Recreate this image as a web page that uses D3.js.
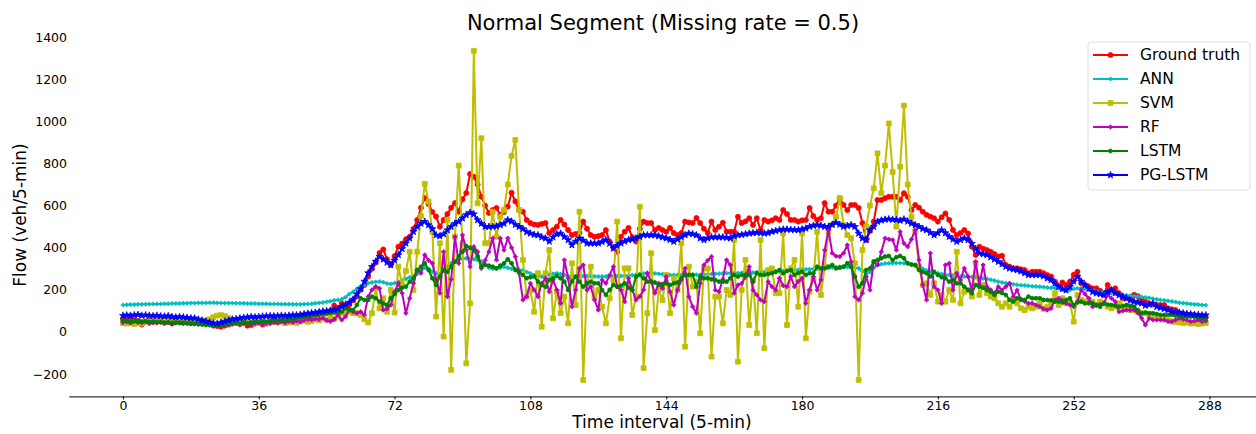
<!DOCTYPE html>
<html>
<head>
<meta charset="utf-8">
<script src="https://cdn.jsdelivr.net/npm/d3@7"></script>
<style>
  body { margin: 0; background: #fff; }
  svg { font-family: "DejaVu Sans", sans-serif; }
</style>
</head>
<body>
<svg width="1256" height="434"></svg>
<script>
// tick labels
const xTicks = [0, 36, 72, 108, 144, 180, 216, 252, 288];
const yTicks = [-200, 0, 200, 400, 600, 800, 1000, 1200, 1400];

const seriesNames = ["Ground truth", "ANN", "SVM", "RF", "LSTM", "PG-LSTM"];

// flow values, one per 5-min interval (0..287)
const groundTruth = [
  62, 58, 60, 55, 52, 35, 50, 55, 48, 52,
  50, 45, 55, 40, 48, 52, 45, 50, 42, 48,
  45, 40, 42, 38, 30, 28, 25, 30, 35, 40,
  45, 38, 42, 30, 33, 40, 45, 35, 40, 50,
  55, 48, 52, 45, 55, 50, 58, 52, 60, 65,
  65, 72, 70, 85, 90, 100, 125, 110, 135, 120,
  130, 150, 168, 200, 223, 263, 300, 330, 375, 392,
  345, 318, 360, 405, 420, 440, 452, 490, 532, 590,
  636, 608, 570, 548, 500, 532, 560, 590, 612, 571,
  630, 660, 750, 737, 700, 642, 600, 565, 579, 589,
  556, 570, 595, 661, 620, 579, 571, 532, 517, 510,
  508, 513, 517, 470, 484, 500, 532, 510, 484, 460,
  465, 470, 524, 490, 460, 452, 455, 460, 484, 429,
  400, 381, 452, 476, 494, 450, 429, 490, 524, 517,
  517, 484, 494, 484, 476, 494, 470, 460, 470, 524,
  520, 517, 541, 517, 490, 470, 524, 484, 500, 519,
  476, 476, 476, 547, 517, 525, 540, 508, 540, 484,
  532, 524, 530, 540, 532, 579, 560, 532, 532, 524,
  530, 532, 589, 550, 532, 540, 612, 571, 571, 600,
  635, 603, 579, 603, 603, 589, 517, 437, 480, 524,
  627, 627, 635, 642, 642, 642, 627, 659, 642, 579,
  603, 590, 571, 556, 548, 540, 524, 545, 563, 532,
  484, 460, 470, 484, 468, 405, 366, 405, 395, 389,
  381, 370, 358, 362, 318, 310, 302, 302, 298, 294,
  279, 286, 286, 286, 279, 270, 263, 239, 215, 235,
  223, 239, 271, 286, 231, 223, 215, 207, 207, 195,
  176, 223, 199, 207, 184, 160, 160, 160, 176, 170,
  152, 144, 136, 130, 128, 128, 128, 112, 108, 104,
  89, 85, 81, 81, 81, 78, 70, 70
];

const ann = [
  128, 129, 130, 130, 131, 131, 132, 132, 133, 133,
  133, 134, 134, 135, 135, 135, 136, 136, 137, 137,
  138, 138, 138, 139, 139, 138, 138, 137, 137, 137,
  136, 136, 136, 135, 135, 135, 134, 134, 134, 133,
  133, 133, 132, 132, 132, 131, 131, 131, 132, 133,
  134, 136, 138, 140, 143, 146, 150, 152, 155, 165,
  180, 191, 205, 218, 226, 231, 235, 238, 239, 236,
  230, 228, 232, 239, 245, 252, 260, 263, 275, 290,
  305, 300, 285, 279, 275, 290, 310, 326, 335, 342,
  348, 350, 348, 345, 342, 335, 320, 305, 300, 302,
  305, 310, 305, 300, 297, 295, 294, 285, 278, 270,
  265, 263, 268, 272, 276, 279, 275, 270, 266, 263,
  262, 264, 265, 266, 265, 264, 263, 263, 263, 264,
  265, 266, 266, 267, 268, 270, 272, 275, 277, 279,
  279, 278, 276, 274, 272, 271, 271, 271, 271, 271,
  271, 271, 272, 272, 273, 274, 275, 276, 277, 278,
  279, 279, 280, 280, 281, 281, 282, 282, 283, 284,
  285, 286, 286, 287, 288, 289, 290, 292, 294, 295,
  296, 297, 298, 299, 300, 301, 302, 304, 306, 308,
  310, 310, 308, 306, 304, 302, 290, 275, 285, 305,
  318, 322, 325, 326, 326, 327, 327, 326, 325, 322,
  315, 310, 300, 292, 286, 282, 278, 275, 272, 271,
  268, 265, 263, 263, 262, 261, 260, 256, 254, 252,
  248, 244, 239, 235, 232, 229, 226, 224, 222, 221,
  219, 217, 216, 215, 213, 211, 209, 208, 207, 200,
  195, 200, 205, 207, 207, 205, 202, 198, 194, 190,
  188, 186, 184, 182, 179, 176, 174, 172, 170, 168,
  166, 164, 162, 158, 155, 152, 150, 148, 145, 142,
  139, 137, 135, 133, 131, 130, 128, 127
];

const svm = [
  42, 40, 45, 38, 42, 40, 48, 50, 52, 50,
  52, 55, 50, 52, 55, 52, 50, 55, 52, 50,
  48, 52, 55, 60, 70, 78, 80, 75, 65, 55,
  50, 48, 45, 48, 45, 42, 45, 48, 45, 50,
  48, 45, 50, 42, 45, 48, 43, 50, 55, 48,
  52, 60, 55, 65, 58, 70, 62, 73, 89, 92,
  96, 89, 89, 81, 60, 45, 89, 207, 112, 160,
  96, 199, 92, 310, 223, 290, 381, 199, 381, 550,
  703, 619, 476, 73, 421, -22, 532, -180, 452, 790,
  420, -149, 136, 1335, 611, 920, 421, 421, 571, 452,
  547, 579, 700, 836, 912, 579, 342, 168, 199, 96,
  279, 25, 279, 389, 65, 191, 89, 168, 41, 326,
  128, 571, -228, 231, 310, 168, 199, 120, 41, 160,
  247, 524, -30, 302, 302, 81, 168, 595, -172, 89,
  374, 9, 199, 152, 271, 89, 255, 199, 421, -70,
  310, 215, 239, -6, 302, 302, -117, 168, 168, 41,
  199, 176, 437, -141, 199, 342, 33, 247, -6, 437,
  -77, 294, 302, 184, 184, 468, 33, 302, 342, 120,
  468, -30, 191, 247, 476, 176, 310, 476, 508, 547,
  635, 508, 460, 445, 326, -228, 389, 500, 600, 682,
  848, 659, 790, 990, 760, 500, 785, 1075, 700, 547,
  476, 310, 223, 231, 176, 231, 144, 176, 144, 199,
  152, 381, 136, 191, 199, 168, 326, 176, 223, 184,
  168, 160, 136, 120, 136, 120, 152, 136, 112, 104,
  120, 112, 120, 136, 110, 120, 136, 184, 128, 160,
  136, 140, 49, 176, 152, 144, 152, 144, 128, 144,
  136, 120, 112, 120, 136, 120, 110, 104, 104, 96,
  89, 89, 85, 80, 75, 70, 60, 55, 50, 48,
  45, 42, 45, 40, 42, 38, 40, 42
];

const rf = [
  45, 48, 42, 50, 46, 44, 48, 40, 45, 42,
  46, 40, 44, 38, 42, 45, 40, 43, 38, 40,
  36, 38, 35, 33, 30, 32, 35, 30, 34, 38,
  40, 36, 42, 38, 35, 40, 42, 38, 44, 40,
  45, 42, 48, 44, 50, 46, 52, 48, 55, 60,
  58, 62, 60, 66, 55, 50, 60, 81, 57, 73,
  104, 95, 89, 96, 81, 168, 200, 215, 207, 104,
  110, 128, 191, 231, 184, 89, 160, 231, 294, 279,
  366, 340, 326, 250, 184, 381, 168, 250, 452, 326,
  460, 389, 310, 405, 381, 302, 340, 381, 445, 342,
  445, 389, 445, 400, 358, 279, 152, 168, 231, 200,
  168, 231, 255, 191, 247, 200, 136, 342, 255, 120,
  200, 302, 318, 199, 215, 152, 104, 247, 231, 270,
  310, 215, 199, 144, 255, 200, 152, 168, 200, 280,
  239, 184, 231, 207, 263, 191, 128, 200, 247, 302,
  168, 120, 89, 231, 318, 340, 358, 199, 191, 250,
  342, 318, 184, 223, 231, 260, 310, 199, 176, 152,
  144, 239, 215, 199, 255, 220, 215, 263, 215, 240,
  255, 136, 200, 263, 199, 247, 389, 484, 374, 360,
  358, 374, 413, 334, 168, 152, 184, 263, 199, 334,
  318, 380, 445, 440, 437, 389, 476, 421, 405, 440,
  484, 342, 223, 152, 374, 215, 200, 136, 318, 326,
  199, 279, 247, 302, 263, 199, 334, 223, 318, 215,
  200, 184, 215, 199, 215, 231, 168, 199, 152, 145,
  136, 136, 128, 120, 110, 104, 112, 152, 160, 150,
  136, 128, 120, 144, 199, 180, 160, 120, 128, 130,
  136, 176, 160, 144, 96, 100, 104, 104, 104, 90,
  65, 33, 65, 57, 57, 57, 57, 50, 49, 57,
  65, 60, 57, 49, 52, 57, 49, 52
];

const lstm = [
  55, 52, 50, 52, 48, 50, 52, 48, 50, 47,
  48, 45, 46, 44, 45, 42, 44, 40, 42, 38,
  38, 35, 33, 33, 30, 28, 30, 35, 38, 40,
  42, 40, 45, 42, 45, 48, 46, 50, 48, 52,
  55, 54, 57, 55, 60, 62, 65, 68, 72, 75,
  78, 80, 84, 86, 89, 90, 92, 94, 96, 112,
  108, 104, 128, 160, 152, 152, 168, 160, 144, 135,
  128, 160, 180, 199, 210, 215, 239, 255, 294, 310,
  326, 294, 255, 223, 263, 294, 286, 310, 334, 358,
  381, 408, 400, 389, 358, 310, 318, 315, 310, 302,
  315, 326, 345, 326, 294, 285, 271, 255, 260, 263,
  239, 223, 215, 247, 255, 266, 255, 239, 199, 240,
  263, 239, 215, 231, 239, 231, 231, 199, 176, 200,
  223, 215, 220, 231, 210, 199, 263, 271, 255, 239,
  239, 235, 223, 227, 231, 223, 231, 235, 255, 271,
  271, 271, 215, 263, 255, 255, 250, 247, 239, 239,
  239, 255, 271, 263, 271, 271, 271, 239, 279, 271,
  271, 275, 279, 285, 294, 279, 290, 294, 271, 280,
  286, 271, 279, 279, 310, 302, 302, 310, 318, 302,
  305, 310, 326, 310, 263, 215, 231, 294, 302, 335,
  342, 350, 358, 361, 342, 355, 361, 350, 326, 320,
  318, 294, 285, 279, 263, 286, 271, 260, 255, 239,
  247, 231, 231, 215, 199, 184, 223, 215, 210, 199,
  190, 176, 191, 185, 176, 152, 144, 160, 155, 152,
  168, 160, 160, 160, 152, 152, 150, 144, 144, 140,
  152, 160, 128, 140, 144, 136, 136, 136, 128, 120,
  136, 130, 128, 125, 120, 124, 128, 124, 120, 104,
  89, 92, 89, 89, 85, 81, 81, 81, 81, 78,
  75, 73, 73, 73, 72, 68, 65, 63
];

const pgLstm = [
  78, 80, 78, 80, 82, 78, 80, 78, 76, 78,
  75, 74, 76, 72, 70, 72, 70, 68, 66, 65,
  60, 55, 50, 45, 42, 40, 45, 50, 55, 60,
  62, 65, 68, 70, 72, 70, 72, 74, 75, 76,
  75, 76, 78, 76, 78, 80, 80, 82, 85, 88,
  90, 92, 95, 98, 100, 102, 105, 110, 120, 130,
  140, 155, 180, 205, 240, 280, 310, 335, 358, 345,
  330, 318, 340, 366, 395, 421, 445, 476, 500, 515,
  524, 508, 490, 460, 455, 465, 484, 500, 515, 524,
  540, 556, 567, 560, 532, 515, 500, 500, 500, 502,
  508, 515, 532, 525, 510, 500, 490, 475, 468, 462,
  460, 450, 445, 430, 450, 465, 468, 452, 437, 413,
  430, 445, 435, 421, 421, 421, 421, 428, 437, 420,
  397, 410, 421, 430, 437, 440, 445, 452, 460, 460,
  460, 460, 455, 450, 445, 438, 429, 440, 450, 460,
  468, 465, 460, 445, 437, 445, 450, 450, 450, 450,
  448, 445, 455, 460, 462, 465, 468, 470, 472, 470,
  468, 470, 476, 480, 484, 487, 487, 486, 485, 484,
  488, 492, 500, 505, 508, 505, 500, 500, 510, 519,
  510, 500, 504, 508, 500, 468, 445, 437, 484, 500,
  524, 530, 534, 536, 534, 532, 529, 535, 525, 515,
  508, 500, 490, 484, 472, 460, 470, 484, 470, 452,
  440, 429, 437, 445, 437, 420, 395, 374, 370, 366,
  355, 345, 334, 322, 310, 302, 298, 294, 288, 280,
  271, 271, 271, 271, 265, 255, 247, 230, 215, 205,
  199, 215, 240, 263, 240, 223, 205, 190, 184, 180,
  176, 190, 199, 185, 175, 168, 160, 150, 144, 140,
  136, 125, 130, 136, 120, 115, 110, 105, 96, 95,
  92, 89, 86, 85, 82, 81, 80, 80
];

const svg = d3.select("svg");

// axes extents follow matplotlib's 5% autoscale margins
const x = d3.scaleLinear().domain([-14.35, 301.35]).range([68.8, 1259.9]);
const y = d3.scaleLinear().domain([-306, 1413]).range([396.4, 34.4]);

const series = [
  {name: seriesNames[0], values: groundTruth, color: "#ff0000", symbol: d3.symbolCircle, size: 20},
  {name: seriesNames[1], values: ann, color: "#00bfbf", symbol: d3.symbolCross, size: 7},
  {name: seriesNames[2], values: svm, color: "#bfbf00", symbol: d3.symbolSquare, size: 24},
  {name: seriesNames[3], values: rf, color: "#bf00bf", symbol: d3.symbolCross, size: 8},
  {name: seriesNames[4], values: lstm, color: "#008000", symbol: d3.symbolCircle, size: 12},
  {name: seriesNames[5], values: pgLstm, color: "#0000ff", symbol: d3.symbolStar, size: 15}
];

const line = d3.line()
    .x((d, i) => x(i))
    .y(d => y(d));

series.forEach(s => {
    const g = svg.append("g");
    g.append("path")
        .attr("d", line(s.values))
        .attr("fill", "none")
        .attr("stroke", s.color)
        .attr("stroke-width", 2)
        .attr("stroke-linejoin", "round");
    g.selectAll("path.m")
        .data(s.values)
        .enter()
        .append("path")
        .attr("class", "m")
        .attr("d", d3.symbol().type(s.symbol).size(s.size))
        .attr("transform", (d, i) => "translate(" + x(i) + "," + y(d) + ")")
        .attr("fill", s.color)
        .attr("stroke", s.color)
        .attr("stroke-width", 0.8);
});

// x axis (bottom spine only)
const xaxis = svg.append("g")
    .attr("transform", "translate(0," + y(-306) + ")")
    .call(d3.axisBottom(x).tickValues(xTicks).tickSize(3).tickSizeOuter(0).tickPadding(1.5));
xaxis.select(".domain").attr("stroke", "#000").attr("stroke-width", 1);
xaxis.selectAll("text").attr("font-size", 12.5).attr("fill", "#000").attr("font-family", "DejaVu Sans");

// y axis labels, no spine and no tick marks
const yaxis = svg.append("g")
    .attr("transform", "translate(70,0)")
    .call(d3.axisLeft(y).tickValues(yTicks).tickSize(0).tickPadding(3).tickFormat(d3.format("d")));
yaxis.select(".domain").remove();
yaxis.selectAll("text").attr("font-size", 12.5).attr("fill", "#000").attr("font-family", "DejaVu Sans");

svg.append("text")
    .attr("x", 663).attr("y", 30)
    .attr("text-anchor", "middle")
    .attr("font-size", 21)
    .text("Normal Segment (Missing rate = 0.5)");

svg.append("text")
    .attr("x", 662).attr("y", 428)
    .attr("text-anchor", "middle")
    .attr("font-size", 17)
    .text("Time interval (5-min)");

svg.append("text")
    .attr("transform", "translate(26,215) rotate(-90)")
    .attr("text-anchor", "middle")
    .attr("font-size", 17)
    .text("Flow (veh/5-min)");

// legend
const legend = svg.append("g");
legend.append("rect")
    .attr("x", 1088).attr("y", 42)
    .attr("width", 162).attr("height", 148)
    .attr("rx", 3)
    .attr("fill", "#fff").attr("fill-opacity", 0.8)
    .attr("stroke", "#e0e0e0");

series.forEach((s, i) => {
    const ly = 55 + i * 24;
    legend.append("line")
        .attr("x1", 1093).attr("x2", 1128)
        .attr("y1", ly).attr("y2", ly)
        .attr("stroke", s.color).attr("stroke-width", 2);
    legend.append("path")
        .attr("d", d3.symbol().type(s.symbol).size(s.size)())
        .attr("transform", "translate(1110.5," + ly + ")")
        .attr("fill", s.color).attr("stroke", s.color).attr("stroke-width", 0.8);
    legend.append("text")
        .attr("x", 1140).attr("y", ly)
        .attr("dy", "0.35em")
        .attr("font-size", 15.5)
        .text(s.name);
});
</script>
</body>
</html>
